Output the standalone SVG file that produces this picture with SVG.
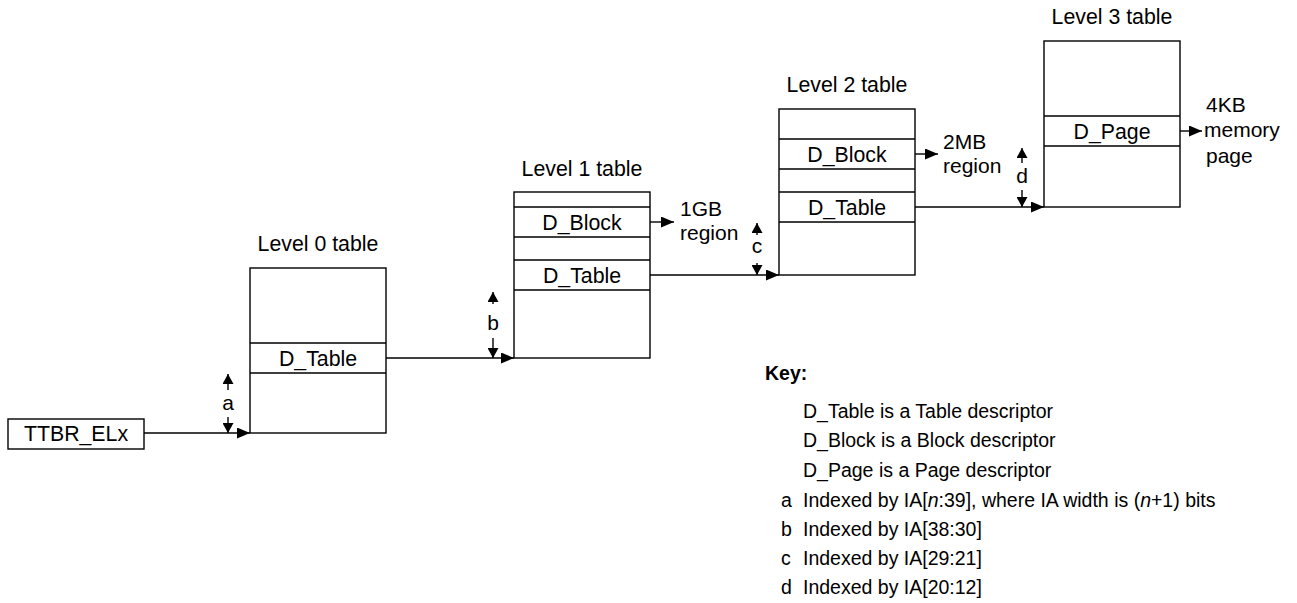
<svg xmlns="http://www.w3.org/2000/svg" width="1297" height="603" viewBox="0 0 1297 603">
<style>
text{font-family:"Liberation Sans",Arial,sans-serif;font-size:21.3px;fill:#000}
.c{text-anchor:middle}
.r{font-size:21px}
.k{font-size:19.5px}
.box{fill:#fff;stroke:#000;stroke-width:1.4}
.ln{fill:none;stroke:#000;stroke-width:1.4}
</style>
<defs>
<marker id="arr" markerUnits="userSpaceOnUse" markerWidth="13" markerHeight="11" refX="13" refY="5.5" orient="auto"><path d="M0,0 L13,5.5 L0,11 z" fill="#000"/></marker>
<marker id="sm" markerUnits="userSpaceOnUse" markerWidth="10" markerHeight="11" refX="10" refY="5.5" orient="auto"><path d="M0,0 L10,5.5 L0,11 z" fill="#000"/></marker>
</defs>
<rect width="1297" height="603" fill="#fff"/>
<g id="ttbr">
<rect class="box" x="8" y="419" width="136" height="30"/>
<text class="c" x="76" y="441">TTBR_ELx</text>
</g>
<g id="level0">
<text class="c" x="318" y="251">Level 0 table</text>
<rect class="box" x="250" y="268" width="136" height="165"/>
<path class="ln" d="M250,343H386M250,373H386"/>
<text class="c" x="318" y="365.5">D_Table</text>
</g>
<g id="level1">
<text class="c" x="582" y="176">Level 1 table</text>
<rect class="box" x="514" y="192" width="136" height="166"/>
<path class="ln" d="M514,207H650M514,237H650M514,260H650M514,290H650"/>
<text class="c" x="582" y="229.5">D_Block</text>
<text class="c" x="582" y="282.5">D_Table</text>
</g>
<g id="level2">
<text class="c" x="847" y="92">Level 2 table</text>
<rect class="box" x="779" y="109" width="136" height="166"/>
<path class="ln" d="M779,139H915M779,169H915M779,192H915M779,222H915"/>
<text class="c" x="847" y="161.5">D_Block</text>
<text class="c" x="847" y="214.5">D_Table</text>
</g>
<g id="level3">
<text class="c" x="1112" y="24">Level 3 table</text>
<rect class="box" x="1044" y="41" width="136" height="166"/>
<path class="ln" d="M1044,116H1180M1044,146H1180"/>
<text class="c" x="1112" y="138.5">D_Page</text>
</g>
<g id="regions">
<text class="r" x="680" y="216">1GB</text>
<text class="r" x="680" y="240">region</text>
<text class="r" x="943" y="149">2MB</text>
<text class="r" x="943" y="173">region</text>
<text class="r" x="1206" y="112">4KB</text>
<text class="r" x="1204" y="137">memory</text>
<text class="r" x="1206" y="163">page</text>
</g>
<g id="connectors">
<path class="ln" d="M144,433H250" marker-end="url(#arr)"/>
<path class="ln" d="M386,358H514" marker-end="url(#arr)"/>
<path class="ln" d="M650,275H779" marker-end="url(#arr)"/>
<path class="ln" d="M915,207H1044" marker-end="url(#arr)"/>
<path class="ln" d="M650,222H674" marker-end="url(#arr)"/>
<path class="ln" d="M915,154H938" marker-end="url(#arr)"/>
<path class="ln" d="M1180,131H1202" marker-end="url(#arr)"/>
</g>
<g id="indices">
<path class="ln" d="M228,390V374" marker-end="url(#sm)"/>
<text class="c r" x="228" y="410">a</text>
<path class="ln" d="M228,417V433" marker-end="url(#sm)"/>
<path class="ln" d="M493,304V292" marker-end="url(#sm)"/>
<text class="c r" x="493" y="330">b</text>
<path class="ln" d="M493,338V358" marker-end="url(#sm)"/>
<path class="ln" d="M757,235V223" marker-end="url(#sm)"/>
<text class="c r" x="757" y="253">c</text>
<path class="ln" d="M757,263V275" marker-end="url(#sm)"/>
<path class="ln" d="M1022,163V148" marker-end="url(#sm)"/>
<text class="c r" x="1022" y="183">d</text>
<path class="ln" d="M1022,190V207" marker-end="url(#sm)"/>
</g>
<g id="key">
<text class="k" x="765" y="380" font-weight="bold">Key:</text>
<text class="k" x="803" y="418">D_Table is a Table descriptor</text>
<text class="k" x="803" y="447">D_Block is a Block descriptor</text>
<text class="k" x="803" y="477">D_Page is a Page descriptor</text>
<text class="k" x="781" y="507">a</text>
<text class="k" x="803" y="507">Indexed by IA[<tspan font-style="italic">n</tspan>:39], where IA width is (<tspan font-style="italic">n</tspan>+1) bits</text>
<text class="k" x="781" y="536">b</text>
<text class="k" x="803" y="536">Indexed by IA[38:30]</text>
<text class="k" x="781" y="565">c</text>
<text class="k" x="803" y="565">Indexed by IA[29:21]</text>
<text class="k" x="781" y="594">d</text>
<text class="k" x="803" y="594">Indexed by IA[20:12]</text>
</g>
</svg>
